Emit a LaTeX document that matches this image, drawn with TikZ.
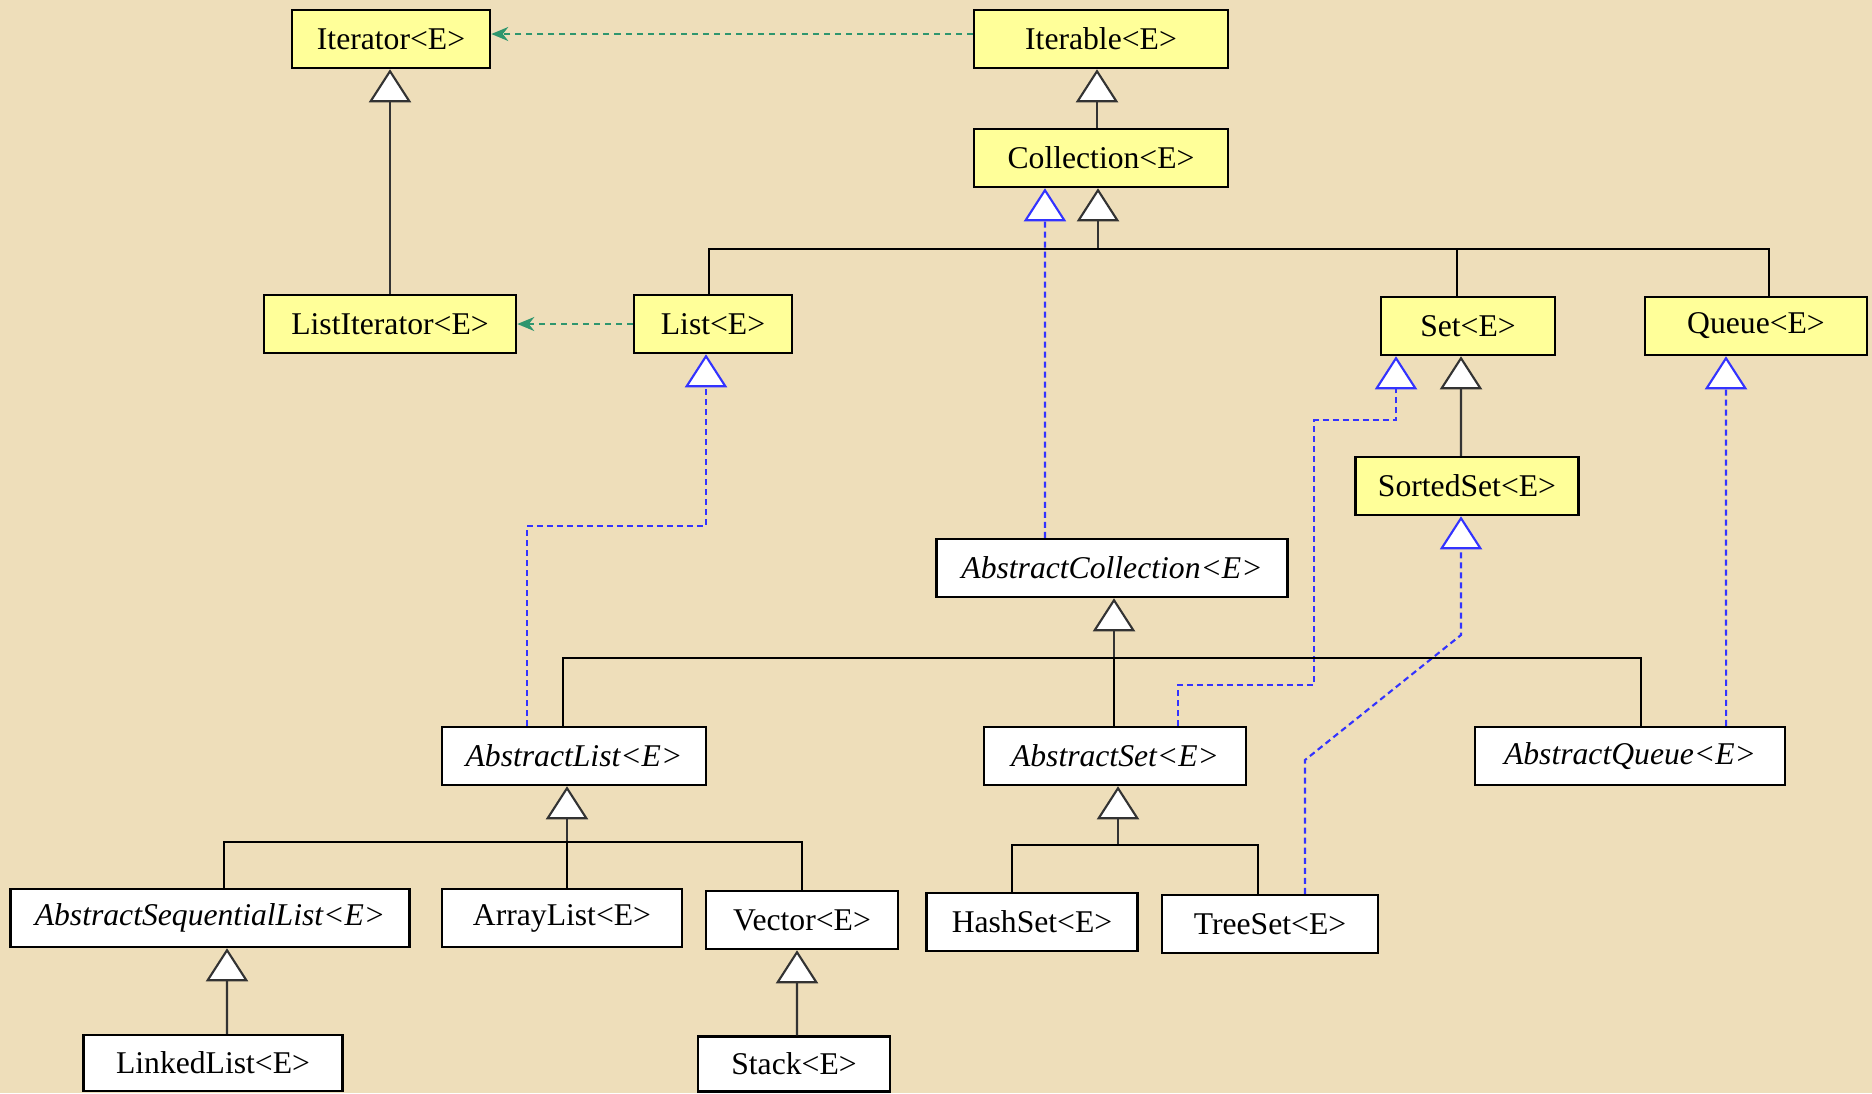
\documentclass[tikz,border=0pt]{standalone}
\usepackage{fontspec}
\setmainfont{Liberation Serif}
\usepackage{xcolor}
\usepackage{tikz}
\usetikzlibrary{arrows.meta}

\definecolor{parchment}{RGB}{238,222,186}
\definecolor{ifaceyellow}{RGB}{255,255,153}
\definecolor{implblue}{RGB}{51,51,255}
\definecolor{usegreen}{RGB}{46,150,110}

\begin{document}
\begin{tikzpicture}[x=0.01cm, y=-0.01cm, line width=0.6pt,
    iface/.style={draw, fill=ifaceyellow, line width=0.7pt, minimum height=0.58cm, inner sep=0pt, font=\fontsize{9}{11}\selectfont},
    cls/.style={iface, fill=white},
    abscls/.style={cls, font=\fontsize{9}{11}\selectfont\itshape},
    extends/.style={-{Triangle[length=0.33cm, width=0.42cm, fill=white]}, draw=black!80},
    implements/.style={-{Triangle[length=0.33cm, width=0.42cm, fill=white]}, draw=implblue, dash pattern=on 0.06cm off 0.04cm},
    uses/.style={-{Stealth[length=0.17cm, width=0.14cm]}, draw=usegreen, dash pattern=on 0.06cm off 0.05cm}]
       % background
       \useasboundingbox (0,0) rectangle (1872,1093);
       \fill[parchment] (0,0) rectangle (1872,1093);

       % interfaces
       \node[iface, minimum width=1.98cm] (Iterator) at (391,39) {Iterator<E>};
       \node[iface, minimum width=2.54cm] (Iterable) at (1101,39) {Iterable<E>};
       \node[iface, minimum width=2.54cm] (Collection) at (1101,158) {Collection<E>};
       \node[iface, minimum width=2.52cm] (ListIterator) at (390,324) {ListIterator<E>};
       \node[iface, minimum width=1.58cm] (List) at (713,324) {List<E>};
       \node[iface, minimum width=1.74cm] (Set) at (1468,326) {Set<E>};
       \node[iface, minimum width=2.22cm] (Queue) at (1756,326) {Queue<E>};
       \node[iface, minimum width=2.23cm] (SortedSet) at (1467,486) {SortedSet<E>};

       % abstract classes
       \node[abscls, minimum width=3.51cm] (AbstractCollection) at (1112,568) {AbstractCollection<E>};
       \node[abscls, minimum width=2.64cm] (AbstractList) at (574,756) {AbstractList<E>};
       \node[abscls, minimum width=2.62cm] (AbstractSet) at (1115,756) {AbstractSet<E>};
       \node[abscls, minimum width=3.10cm] (AbstractQueue) at (1630,756) {AbstractQueue<E>};
       \node[abscls, minimum width=3.99cm] (AbstractSequentialList) at (210,918) {AbstractSequentialList<E>};

       % concrete classes
       \node[cls, minimum width=2.40cm] (ArrayList) at (562,918) {ArrayList<E>};
       \node[cls, minimum width=1.92cm] (Vector) at (802,920) {Vector<E>};
       \node[cls, minimum width=2.11cm] (HashSet) at (1032,922) {HashSet<E>};
       \node[cls, minimum width=2.16cm] (TreeSet) at (1270,924) {TreeSet<E>};
       \node[cls, minimum width=2.59cm, minimum height=0.56cm] (LinkedList) at (213,1063) {LinkedList<E>};
       \node[cls, minimum width=1.92cm, minimum height=0.55cm] (Stack) at (794,1064) {Stack<E>};

       % bends and bars
       \coordinate (colbar) at (1098,249);
       \coordinate (acbar) at (1114,658);
       \coordinate (albar) at (567,842);
       \coordinate (asbar) at (1118,845);
       \coordinate (listjog) at (706,526);
       \coordinate (setjog1) at (1314,685);
       \coordinate (setjog2) at (1396,420);
       \coordinate (treejog1) at (1305,760);
       \coordinate (treejog2) at (1461,635);

       % iterator links
       \draw[uses] ([yshift=0.05cm]Iterable.west) -- ([yshift=0.05cm]Iterator.east);
       \draw[uses] (List.west) -- (ListIterator.east);
       \draw[extends] (ListIterator.north) -- (ListIterator.north |- Iterator.south);
       \draw[extends] ([xshift=-0.04cm]Collection.north) -- ([xshift=-0.04cm]Iterable.south);

       % Collection subtree
       \draw[extends] (colbar) -- (colbar |- Collection.south);
       \draw ([xshift=-0.04cm]List.north) |- (colbar);
       \draw ([xshift=-0.11cm]Set.north) |- (colbar);
       \draw ([xshift=0.13cm]Queue.north) |- (colbar);
       \draw[extends] ([xshift=-0.06cm]SortedSet.north) -- ([xshift=-0.07cm]Set.south);

       % implemented interfaces
       \draw[implements] ([xshift=-0.67cm]AbstractCollection.north) -- ([xshift=-0.56cm]Collection.south);
       \draw[implements] ([xshift=-0.47cm]AbstractList.north) |- (listjog) -- (listjog |- List.south);
       \draw[implements] ([xshift=0.63cm]AbstractSet.north) |- (setjog1) |- (setjog2) -- (setjog2 |- Set.south);
       \draw[implements] ([xshift=0.35cm]TreeSet.north) -- (treejog1) -- (treejog2) -- (treejog2 |- SortedSet.south);
       \draw[implements] ([xshift=0.96cm]AbstractQueue.north) -- ([xshift=-0.30cm]Queue.south);

       % AbstractCollection subtree
       \draw[extends] (acbar) -- (acbar |- AbstractCollection.south);
       \draw ([xshift=-0.11cm]AbstractList.north) |- (acbar);
       \draw ([xshift=-0.01cm]AbstractSet.north) |- (acbar);
       \draw ([xshift=0.11cm]AbstractQueue.north) |- (acbar);

       % AbstractList subtree
       \draw[extends] (albar) -- (albar |- AbstractList.south);
       \draw ([xshift=0.14cm]AbstractSequentialList.north) |- (albar);
       \draw ([xshift=0.05cm]ArrayList.north) |- (albar);
       \draw (Vector.north) |- (albar);
       \draw[extends] ([xshift=0.14cm]LinkedList.north) -- ([xshift=0.17cm]AbstractSequentialList.south);
       \draw[extends] ([xshift=0.03cm]Stack.north) -- ([xshift=-0.05cm]Vector.south);

       % AbstractSet subtree
       \draw[extends] (asbar) -- (asbar |- AbstractSet.south);
       \draw ([xshift=-0.20cm]HashSet.north) |- (asbar);
       \draw ([xshift=-0.12cm]TreeSet.north) |- (asbar);
\end{tikzpicture}
\end{document}
